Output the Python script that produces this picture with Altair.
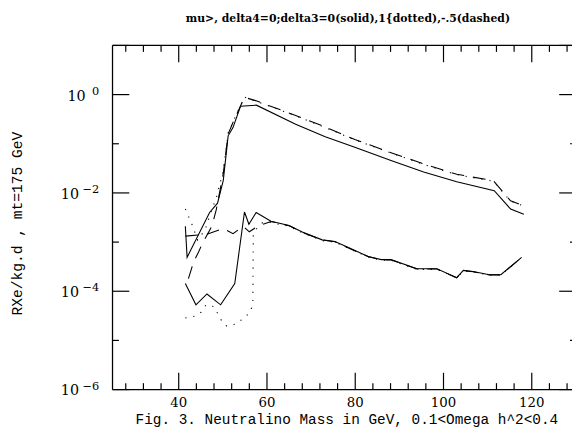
import altair as alt
import pandas as pd

# ---------------- data ----------------
# upper group
us_x = [41.5, 41.9, 47.0, 48.8, 50.1, 51.2, 52.3, 54.0, 57.6, 66.5, 73.2, 79.9, 88.1, 95.5, 103.0, 111.5, 115.2, 118.2]
us_y = [2.1e-3, 4.9e-4, 4.0e-3, 6.2e-3, 1.8e-2, 0.145, 0.213, 0.58, 0.61, 0.249, 0.139, 0.0847, 0.0458, 0.0267, 0.0168, 0.0111, 4.7e-3, 3.7e-3]

ud_x = [42.2, 43.4, 44.5, 45.3, 47.5, 48.5, 50.1, 51.2, 52.3, 54.9, 57.4, 66.5, 73.2, 79.9, 88.1, 95.5, 103.0, 111.3, 115.2, 118.2]
ud_y = [1.8e-4, 4.0e-4, 6.3e-4, 9.1e-4, 2.1e-3, 4.5e-3, 2.5e-2, 0.158, 0.27, 0.88, 0.755, 0.377, 0.22, 0.122, 0.066, 0.039, 0.024, 0.0177, 6.9e-3, 5.5e-3]

uo_x = [41.5, 43.0, 44.3, 46.0, 47.5, 48.5, 50.1, 51.2, 52.3, 54.9, 57.4, 66.5, 73.2, 79.9, 88.1, 95.5, 103.0, 111.3, 115.2, 118.2]
uo_y = [4.7e-3, 2.3e-3, 1.1e-3, 1.8e-3, 4.6e-3, 7.9e-3, 2.8e-2, 0.166, 0.28, 0.89, 0.74, 0.37, 0.215, 0.12, 0.065, 0.038, 0.0235, 0.0173, 6.8e-3, 5.4e-3]

# lower group
ls_x = [41.5, 43.9, 46.4, 49.5, 52.7, 54.9, 55.9, 57.55, 60.9, 65.0, 68.0, 72.5, 75.4, 79.2, 82.9, 85.9, 88.1, 94.0, 98.5, 103.0, 104.5, 106.7, 110.4, 113.0, 117.7]
ls_y = [1.43e-4, 5.3e-5, 8.8e-5, 5.3e-5, 1.43e-4, 4.1e-3, 2.3e-3, 4.0e-3, 2.66e-3, 2.18e-3, 1.6e-3, 1.11e-3, 1.03e-3, 7.2e-4, 5.1e-4, 4.4e-4, 4.4e-4, 2.86e-4, 2.86e-4, 1.89e-4, 2.65e-4, 2.53e-4, 2.17e-4, 2.17e-4, 4.9e-4]

lo_x = [41.5, 43.6, 45.1, 46.2, 47.9, 49.0, 50.0, 50.9, 52.9, 54.6, 56.0, 56.8, 56.9, 57.55, 59.0, 60.9, 65.0, 68.0, 72.5, 75.4, 79.2, 82.9, 85.9, 88.1, 94.0, 98.5, 103.0, 104.5, 106.7, 110.4, 113.0, 117.7]
lo_y = [2.85e-5, 3.1e-5, 3.76e-5, 5.3e-5, 4.9e-5, 3.3e-5, 2.26e-5, 1.95e-5, 2.16e-5, 2.76e-5, 3.6e-5, 5.3e-5, 1.45e-3, 1.82e-3, 2.5e-3, 2.5e-3, 2.09e-3, 1.55e-3, 1.07e-3, 1.0e-3, 7.0e-4, 5.0e-4, 4.27e-4, 4.27e-4, 2.79e-4, 2.79e-4, 1.86e-4, 2.6e-4, 2.48e-4, 2.14e-4, 2.14e-4, 4.84e-4]

ld_x = [41.5, 46.4, 50.1, 52.3, 54.6, 56.0, 57.9, 60.9, 65.0, 68.0, 72.5, 75.4, 79.2, 82.9, 85.9, 88.1, 94.0, 98.5, 103.0, 104.5, 106.7, 110.4, 113.0, 117.7]
ld_y = [1.32e-3, 1.45e-3, 1.9e-3, 1.48e-3, 2.1e-3, 1.62e-3, 2.1e-3, 2.63e-3, 2.16e-3, 1.58e-3, 1.1e-3, 1.02e-3, 7.1e-4, 5.1e-4, 4.35e-4, 4.35e-4, 2.83e-4, 2.83e-4, 1.88e-4, 2.63e-4, 2.5e-4, 2.15e-4, 2.15e-4, 4.87e-4]

# ticks / labels
x_major = [40, 60, 80, 100, 120]
x_minor = [28, 32, 36, 44, 48, 52, 56, 64, 68, 72, 76, 84, 88, 92, 96, 104, 108, 112, 116, 124, 128]
y_major = [1e-6, 1e-4, 1e-2, 1.0, 10.0]
y_minor = [1e-5, 1e-3, 1e-1]
y_lab_vals = [1.0, 1e-2, 1e-4, 1e-6]
y_lab_exp = ["0", "\u22122", "\u22124", "\u22126"]

title_text = "mu>, delta4=0;delta3=0(solid),1{dotted),-.5(dashed)"
x_title = "Fig. 3. Neutralino Mass in GeV, 0.1<Omega h^2<0.4"
y_title = "RXe/kg.d , mt=175 GeV"

# ---------------- geometry ----------------
W, H = 461, 349
XS = alt.Scale(domain=[25, 128], nice=False, zero=False)
YS = alt.Scale(type="log", domain=[1e-6, 10], nice=False)


def curve(xs, ys, dash=None):
    df = pd.DataFrame({"x": xs, "y": ys, "i": list(range(len(xs)))})
    kw = dict(color="black", strokeWidth=1.1, clip=True)
    if dash is not None:
        kw["strokeDash"] = dash
    return alt.Chart(df).mark_line(**kw).encode(
        x=alt.X("x:Q", scale=XS, axis=None),
        y=alt.Y("y:Q", scale=YS, axis=None),
        order="i:Q",
    )


one = pd.DataFrame({"k": [0]})
frame_kw = dict(color="black", strokeWidth=1.3)
frame = [
    alt.Chart(one).mark_rule(**frame_kw).encode(x=alt.value(0), y=alt.value(0), y2=alt.value(H)),
    alt.Chart(one).mark_rule(**frame_kw).encode(x=alt.value(0), x2=alt.value(W + 5), y=alt.value(0)),
    alt.Chart(one).mark_rule(**frame_kw).encode(x=alt.value(0), x2=alt.value(W + 5), y=alt.value(H)),
]

dxmaj = pd.DataFrame({"v": x_major})
dxmin = pd.DataFrame({"v": x_minor})
dymaj = pd.DataFrame({"v": y_major})
dymin = pd.DataFrame({"v": y_minor})
tk = dict(color="black", strokeWidth=1.2)


def xtick(df, y0, y1):
    return alt.Chart(df).mark_rule(**tk).encode(
        x=alt.X("v:Q", scale=XS, axis=None), y=alt.value(y0), y2=alt.value(y1))


def ytick(df, x0, x1):
    return alt.Chart(df).mark_rule(**tk).encode(
        y=alt.Y("v:Q", scale=YS, axis=None), x=alt.value(x0), x2=alt.value(x1))


ticks = [
    xtick(dxmaj, H, H - 17), xtick(dxmaj, 0, 17),
    xtick(dxmin, H, H - 6.5), xtick(dxmin, 0, 6.5),
    ytick(dymaj, 0, 17), ytick(dymin, 0, 6.5),
    ytick(dymaj, W - 8, W + 5), ytick(dymin, W + 3, W + 5),
]

xlabels = alt.Chart(dxmaj).mark_text(
    font="DejaVu Serif", fontSize=13.5, align="center", baseline="alphabetic", color="black"
).encode(x=alt.X("v:Q", scale=XS, axis=None), y=alt.value(366.5), text=alt.Text("v:Q", format="d"))

dylab = pd.DataFrame({"v": y_lab_vals, "e": y_lab_exp})
yexp = alt.Chart(dylab).mark_text(
    font="DejaVu Serif", fontSize=11.5, align="right", baseline="alphabetic", color="black"
).encode(y=alt.Y("v:Q", scale=YS, axis=None), x=alt.value(-13.6), text="e:N")
ybase_zero = alt.Chart(dylab).transform_filter("datum.v == 1").mark_text(
    font="DejaVu Serif", fontSize=14.5, align="right", baseline="alphabetic", dy=6, color="black"
).encode(y=alt.Y("v:Q", scale=YS, axis=None), x=alt.value(-27.2), text=alt.value("10"))
ybase_neg = alt.Chart(dylab).transform_filter("datum.v < 1").mark_text(
    font="DejaVu Serif", fontSize=14.5, align="right", baseline="alphabetic", dy=6, color="black"
).encode(y=alt.Y("v:Q", scale=YS, axis=None), x=alt.value(-34.0), text=alt.value("10"))

texts = [
    alt.Chart(one).mark_text(font="DejaVu Serif", fontSize=11, fontWeight="bold", align="center",
                             baseline="alphabetic", color="black", text=title_text)
    .encode(x=alt.value(238.7), y=alt.value(-23.8)),
    alt.Chart(one).mark_text(font="Liberation Mono", fontSize=14.6, align="center",
                             baseline="alphabetic", color="black", text=x_title)
    .encode(x=alt.value(237.7), y=alt.value(383.5)),
    alt.Chart(one).mark_text(font="Liberation Mono", fontSize=14.8, align="center",
                             baseline="middle", angle=270, color="black", text=y_title)
    .encode(x=alt.value(-95.3), y=alt.value(180.7)),
]

curves = [
    curve(us_x, us_y),
    curve(ud_x, ud_y, [13, 9]),
    curve(uo_x, uo_y, [1.2, 7]),
    curve(ls_x, ls_y),
    curve(lo_x, lo_y, [1.2, 7]),
    curve(ld_x, ld_y, [13, 9]),
]

chart = alt.layer(*frame, *ticks, *curves, xlabels, yexp, ybase_zero, ybase_neg, *texts).properties(
    width=W, height=H,
    autosize=alt.AutoSizeParams(type="none"),
    padding={"left": 106, "top": 35, "right": 5, "bottom": 36},
    background="white",
).configure_view(stroke=None)

chart.save("out.html", embed_options={"renderer": "svg", "actions": False})
